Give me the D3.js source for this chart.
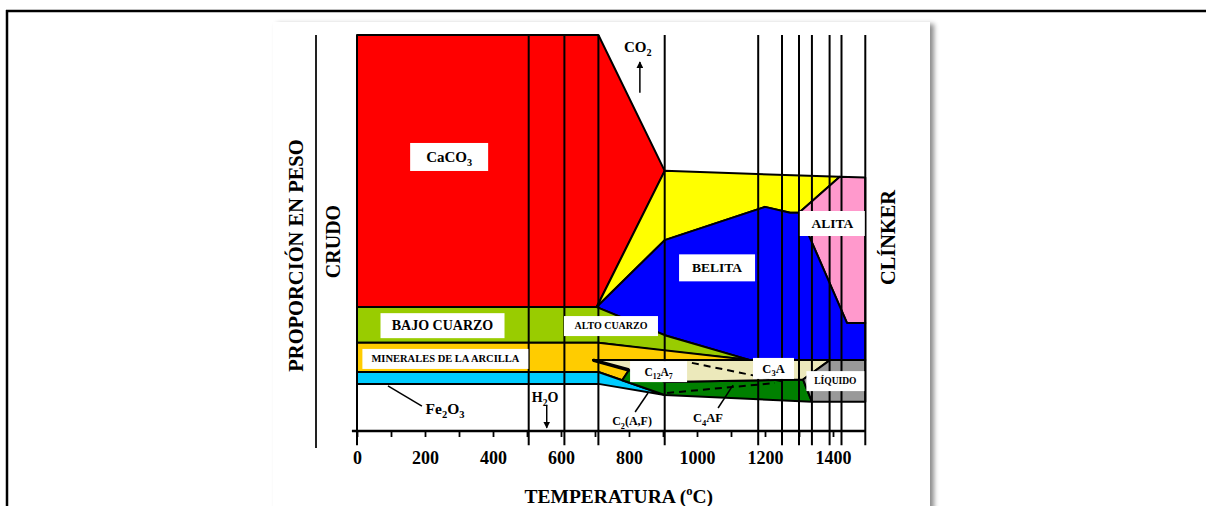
<!DOCTYPE html>
<html><head><meta charset="utf-8">
<script src="https://cdn.jsdelivr.net/npm/d3@7"></script>
<style>
body{margin:0;background:#fff}
svg{display:block}
text{font-family:"Liberation Serif","Times New Roman",serif;font-weight:bold;fill:#000}
</style>
</head><body>
<svg id="c" width="1206" height="506"></svg>
<script>
// ---------- DATA (temperature °C, proportion %) ----------
const tickValues = [0,100,200,300,400,500,600,700,800,900,1000,1100,1200,1300,1400];
const tickLabels = [0,200,400,600,800,1000,1200,1400];
const stageLines = [0,505,610,710,905,1180,1250,1300,1338,1390,1425,1495];

const caco3   = [[0,100],[710,100],[905,65.7],[705,31.3],[0,31.3]];
const cao     = [[905,65.7],[1420,64.2],[1300,55.1],[1274,55.1],[1200,56.6],[905,48.2],[705,31.3]];
const alita   = [[1420,64.2],[1495,64.0],[1495,27.3],[1441,27.3],[1300,55.1]];
const belita  = [[705,31.3],[905,48.2],[1200,56.6],[1274,55.1],[1300,55.1],[1441,27.3],[1495,27.3],[1495,17.9],[1156,17.9],[905,24.2]];
const cuarzo  = [[0,31.3],[705,31.3],[905,24.2],[1156,17.9],[905,20.2],[710,22.3],[0,22.3]];
const arcilla = [[0,22.3],[710,22.3],[1156,17.9],[694,17.9],[800,15.4],[780,12.8],[710,14.9],[0,14.9]];
const fe2o3   = [[0,14.9],[710,14.9],[905,9.1],[710,11.9],[0,11.9]];
const c4af    = [[800,15.4],[905,12.4],[1312,13.0],[1338,7.4],[905,9.1],[780,12.8]];
const c12a7   = [[694,17.9],[1391,17.9],[1312,13.0],[905,12.4],[800,15.4]];
const liquido = [[1391,17.9],[1495,17.9],[1495,7.4],[1338,7.4],[1312,13.0]];

const regions = [
  {name:"CaCO3", pts:caco3, color:"#ff0000"},
  {name:"CaO", pts:cao, color:"#ffff00"},
  {name:"Alita", pts:alita, color:"#ff99cc"},
  {name:"Belita", pts:belita, color:"#0000ff"},
  {name:"Cuarzo", pts:cuarzo, color:"#99cc00"},
  {name:"Arcilla", pts:arcilla, color:"#ffcc00"},
  {name:"Fe2O3", pts:fe2o3, color:"#00ccff"},
  {name:"C4AF", pts:c4af, color:"#008000"},
  {name:"C12A7", pts:c12a7, color:"#ece9bb"},
  {name:"Liquido", pts:liquido, color:"#999999"}
];
const dashedLines = [ [[985,17.2],[1259,12.4]], [[912,9.6],[1229,12.1]] ];
const tongueLine  = [[694,17.9],[800,15.4]];
const leaders = [ [[91,11.4],[191,6.3]], [[856,9.6],[818,4.8]], [[1106,11.6],[1062,5.8]] ];
const arrows  = [ [[558,6.6],[558,0.8]], [[832,85.4],[832,93.2]] ];

const boxLabels = [
 {text:"CaCO_3", t:271, p:69.2, w:78, h:28, size:15},
 {text:"BAJO CUARZO", t:251.5, p:26.6, w:124, h:25, size:14},
 {text:"MINERALES DE LA ARCILLA", t:260, p:18.2, w:166, h:20, size:10.5},
 {text:"ALTO CUARZO", t:747, p:26.5, w:94, h:20, size:10},
 {text:"BELITA", t:1059, p:41.2, w:76, h:27, size:13.5},
 {text:"ALITA", t:1398, p:52.4, w:65, h:25, size:13.5},
 {text:"C_12A_7", t:887, p:15.0, w:57, h:21, size:11.5},
 {text:"C_3A", t:1225, p:15.8, w:41, h:21, size:12.5},
 {text:"LÍQUIDO", t:1407, p:12.6, w:58, h:20, size:9.5}
];
const plainLabels = [
 {text:"Fe_2O_3", t:259, p:5.6, size:15.5},
 {text:"C_2(A,F)", t:809, p:2.5, size:12},
 {text:"C_4AF", t:1032, p:3.3, size:12.5},
 {text:"H_2O", t:553, p:8.6, size:14},
 {text:"CO_2", t:826, p:97, size:15}
];

// ---------- DRAW ----------
const svg = d3.select("#c");
const x = d3.scaleLinear().domain([0,1500]).range([357,867]);
const y = d3.scaleLinear().domain([0,100]).range([431,35]);

const defs = svg.append("defs");
const f = defs.append("filter").attr("id","sh").attr("x","-5%").attr("y","-5%").attr("width","115%").attr("height","115%");
f.append("feDropShadow").attr("dx",4).attr("dy",2).attr("stdDeviation",2.5).attr("flood-color","#000").attr("flood-opacity",0.45);
defs.append("marker").attr("id","ah").attr("viewBox","0 0 10 10").attr("refX",9).attr("refY",5)
  .attr("markerWidth",7).attr("markerHeight",7).attr("markerUnits","userSpaceOnUse").attr("orient","auto")
  .append("path").attr("d","M0,0L10,5L0,10z").attr("fill","#000");

// frame
svg.append("line").attr("x1",6).attr("x2",1206).attr("y1",11).attr("y2",11).attr("stroke","#000").attr("stroke-width",2.5);
svg.append("line").attr("x1",7).attr("x2",7).attr("y1",10).attr("y2",506).attr("stroke","#000").attr("stroke-width",2.5);
// card
svg.append("rect").attr("x",273).attr("y",22).attr("width",657).attr("height",500).attr("fill","#fff").attr("filter","url(#sh)");

const line = d3.line().x(d=>x(d[0])).y(d=>y(d[1]));

svg.append("g").selectAll("path").data(regions).join("path")
  .attr("d", d=>line(d.pts)+"Z").attr("fill", d=>d.color)
  .attr("stroke","#000").attr("stroke-width",2).attr("stroke-linejoin","round");

svg.append("path").attr("d", line(tongueLine)).attr("stroke","#000").attr("stroke-width",3.5).attr("fill","none");

// stage lines
svg.append("g").selectAll("line").data(stageLines).join("line")
  .attr("x1",d=>x(d)).attr("x2",d=>x(d)).attr("y1",y(100)).attr("y2",y(-3.6))
  .attr("stroke","#000").attr("stroke-width",2);

// axis
const ax = svg.append("g").attr("transform",`translate(0,${y(0)})`)
  .call(d3.axisBottom(x).tickValues(tickValues).tickSize(6).tickPadding(14)
    .tickFormat(d=> tickLabels.includes(d) ? d : ""));
ax.select(".domain").remove();
ax.selectAll(".tick line").attr("stroke","#000").attr("stroke-width",1.8);
ax.selectAll(".tick text").attr("font-size",18).attr("font-family","Liberation Serif").attr("font-weight","bold").attr("fill","#000");
svg.append("line").attr("x1",x(-15)).attr("x2",x(1495)).attr("y1",y(0)).attr("y2",y(0)).attr("stroke","#000").attr("stroke-width",2.5);

// dashed
svg.append("g").selectAll("path").data(dashedLines).join("path")
  .attr("d", d=>line(d)).attr("stroke","#000").attr("stroke-width",2).attr("stroke-dasharray","7,5").attr("fill","none");
svg.append("g").selectAll("path").data(leaders).join("path")
  .attr("d", d=>line(d)).attr("stroke","#000").attr("stroke-width",1.5).attr("fill","none");
svg.append("g").selectAll("path").data(arrows).join("path")
  .attr("d", d=>line(d)).attr("stroke","#000").attr("stroke-width",1.5).attr("fill","none").attr("marker-end","url(#ah)");

function rich(g, str, size){
  const parts = str.split(/(_\d+|\^\w)/).filter(s=>s);
  const t = g.append("text").attr("font-size", size).attr("text-anchor","middle");
  let shift = 0;
  parts.forEach(p=>{
    if (p[0]==="_"){ const s=size*0.28; t.append("tspan").text(p.slice(1)).attr("font-size",size*0.68).attr("dy",s-shift); shift=s; }
    else if (p[0]==="^"){ const s=-size*0.4; t.append("tspan").text(p.slice(1)).attr("font-size",size*0.65).attr("dy",s-shift); shift=s; }
    else { t.append("tspan").text(p).attr("dy",-shift); shift=0; }
  });
  return t;
}

const bl = svg.append("g");
boxLabels.forEach(b=>{
  const cx=x(b.t), cy=y(b.p);
  bl.append("rect").attr("x",cx-b.w/2).attr("y",cy-b.h/2).attr("width",b.w).attr("height",b.h).attr("fill","#fff");
  rich(bl, b.text, b.size).attr("x",cx).attr("y",cy+b.size*0.34);
});
plainLabels.forEach(b=>{
  rich(bl, b.text, b.size).attr("x",x(b.t)).attr("y",y(b.p)+b.size*0.34);
});

// titles
rich(svg, "TEMPERATURA (^oC)", 19.5).attr("x", x(770)).attr("y", 503);
svg.append("line").attr("x1",316).attr("x2",316).attr("y1",35).attr("y2",448).attr("stroke","#222").attr("stroke-width",2);
function vtext(str, cx, cy, size){
  svg.append("text").attr("transform",`translate(${cx},${cy}) rotate(-90)`).attr("text-anchor","middle")
    .attr("dy","0.35em").attr("font-size",size).text(str);
}
vtext("PROPORCIÓN EN PESO", 295.5, 255.5, 20.5);
vtext("CRUDO", 333, 241.5, 20);
vtext("CLÍNKER", 888, 237.5, 20.4);
</script>
</body></html>
